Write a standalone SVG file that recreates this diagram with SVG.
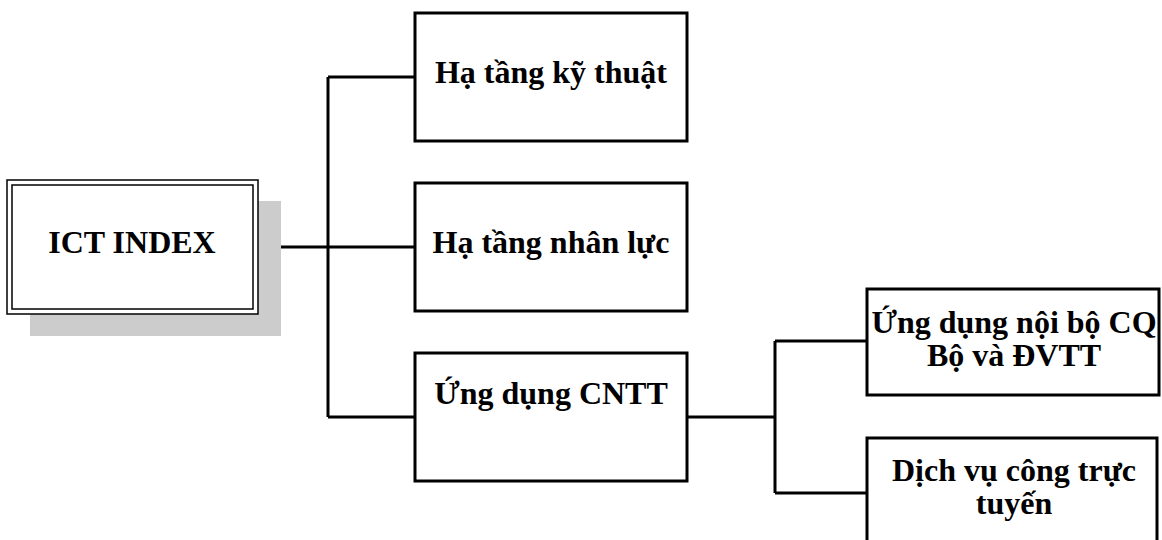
<svg xmlns="http://www.w3.org/2000/svg" width="1162" height="540" viewBox="0 0 1162 540">
<style>
.box{fill:#fff;stroke:#000;stroke-width:3}
.conn{fill:none;stroke:#000;stroke-width:3}
.t{font-family:"Liberation Serif","Times New Roman",serif;font-weight:bold;font-size:32px;fill:#000;text-anchor:middle}
</style>
<rect width="1162" height="540" fill="#fff"/>
<g id="connectors">
<path class="conn" d="M258,247 H415 M328,77 V417 M328,77 H415 M328,417 H415"/>
<path class="conn" d="M687,417 H775 M775,341 V493 M775,341 H867 M775,493 H867"/>
</g>
<g id="ict-index">
<rect x="30" y="201" width="251" height="135" fill="#cccccc"/>
<rect x="7" y="180" width="251" height="134" fill="#fff" stroke="#000" stroke-width="1.5"/>
<rect x="12" y="185" width="241" height="124" fill="none" stroke="#000" stroke-width="1.5"/>
<text class="t" x="132" y="253">ICT INDEX</text>
</g>
<g id="ha-tang-ky-thuat">
<rect class="box" x="415" y="13" width="272" height="128"/>
<text class="t" x="551" y="83">Hạ tầng kỹ thuật</text>
</g>
<g id="ha-tang-nhan-luc">
<rect class="box" x="415" y="183" width="272" height="128"/>
<text class="t" x="551" y="253">Hạ tầng nhân lực</text>
</g>
<g id="ung-dung-cntt">
<rect class="box" x="415" y="353" width="272" height="128"/>
<text class="t" x="551" y="404">Ứng dụng CNTT</text>
</g>
<g id="ung-dung-noi-bo">
<rect class="box" x="867" y="289" width="292" height="106"/>
<text class="t" x="1014" y="333">Ứng dụng nội bộ CQ</text>
<text class="t" x="1014" y="366">Bộ và ĐVTT</text>
</g>
<g id="dich-vu-cong">
<rect class="box" x="867" y="438" width="290" height="120"/>
<text class="t" x="1014" y="481">Dịch vụ công trực</text>
<text class="t" x="1014" y="514">tuyến</text>
</g>
</svg>
